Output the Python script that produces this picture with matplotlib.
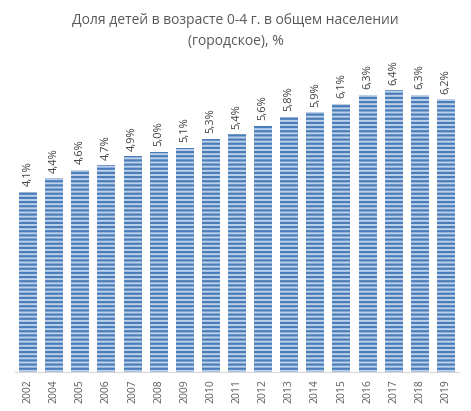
import numpy as np
import matplotlib
matplotlib.use('Agg')
import matplotlib.pyplot as plt

matplotlib.rcParams['font.family'] = ['Open Sans', 'DejaVu Sans']
matplotlib.rcParams['hatch.linewidth'] = 1.6
matplotlib.rcParams['hatch.color'] = '#4a7ebb'

years = ['2002', '2004', '2005', '2006', '2007', '2008', '2009', '2010', '2011',
         '2012', '2013', '2014', '2015', '2016', '2017', '2018', '2019']
share = [4.1, 4.4, 4.6, 4.7, 4.9, 5.0, 5.1, 5.3, 5.4,
         5.6, 5.8, 5.9, 6.1, 6.3, 6.4, 6.3, 6.2]

fig = plt.figure(figsize=(4.71, 4.11), dpi=100)
ax = fig.add_axes([15/471, 39/411, 444/471, 308/411])

x = np.arange(len(years))
ax.bar(x, share, width=0.69, color='#bfd1ea', edgecolor='#4a7ebb',
       linewidth=0, hatch='----')

for xi, v in zip(x, share):
    ax.annotate(('%.1f%%' % v).replace('.', ','), (xi, v), xytext=(0, 4),
                textcoords='offset points', rotation=90, ha='center',
                va='bottom', fontsize=8, color='#404040')

ax.set_xlim(-0.5, len(years) - 0.5)
ax.set_ylim(0, 7)
ax.set_xticks(x)
ax.set_xticklabels(years, rotation=90, fontsize=7.5, color='#595959')
ax.tick_params(axis='x', length=0, pad=5)
ax.set_yticks([])
for s in ['top', 'right', 'left']:
    ax.spines[s].set_visible(False)
ax.spines['bottom'].set_color('#d9d9d9')

fig.text(0.5, 1 - 31/411, 'Доля детей в возрасте 0-4 г. в общем населении\n(городское), %',
         ha='center', va='center', fontsize=10, color='#595959', linespacing=1.5)

fig.savefig('out.png', dpi=100)
